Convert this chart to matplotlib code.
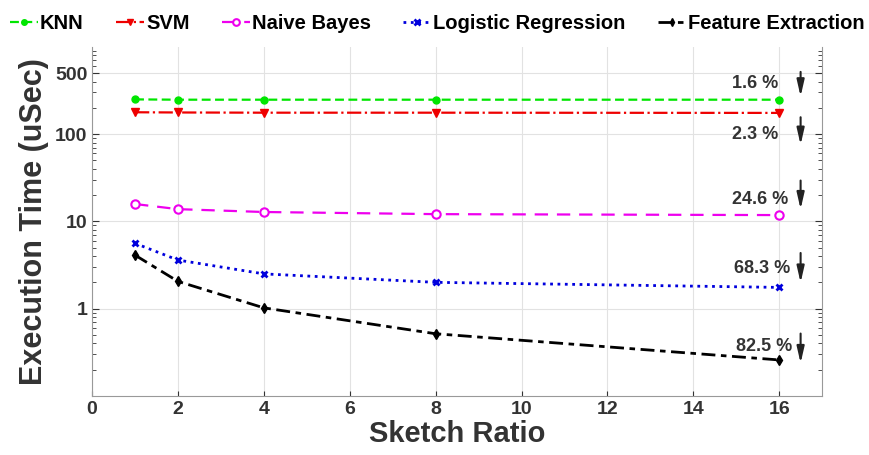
import matplotlib
matplotlib.use("Agg")
import matplotlib.pyplot as plt
from matplotlib.ticker import FixedLocator, NullFormatter, LogLocator

plt.rcParams['font.family'] = ['Liberation Sans', 'DejaVu Sans']
plt.rcParams['font.weight'] = 'bold'

sketch_ratio = [1, 2, 4, 8, 16]
knn = [250, 248, 248, 248, 248]
svm = [178, 177, 176, 176, 175]
naive_bayes = [15.8, 13.8, 12.8, 12.1, 11.8]
logistic = [5.6, 3.6, 2.5, 2.0, 1.75]
feature = [4.1, 2.05, 1.02, 0.515, 0.258]

labels = ["1.6 %", "2.3 %", "24.6 %", "68.3 %", "82.5 %"]
label_x = [15.45, 15.45, 15.55, 15.6, 15.65]
label_y = [383, 100, 17.6, 2.9, 0.37]
arrow_x = 16.5
arrow_top = [556, 168, 31.6, 4.67, 0.557]
arrow_bot = [251, 70, 12.8, 1.84, 0.22]

fig = plt.figure(figsize=(8.69, 4.55), dpi=100)
ax = fig.add_axes([0.106, 0.130, 0.840, 0.767])

ax.plot(sketch_ratio, knn, color='#00e600', ls=(0, (4, 2)), lw=1.6, marker='o', ms=5, label='KNN')
ax.plot(sketch_ratio, svm, color='#ee0000', ls='-.', lw=1.6, marker='v', ms=6, label='SVM')
ax.plot(sketch_ratio, naive_bayes, color='#ee00ee', ls=(0, (6, 4)), lw=1.6, marker='o', ms=6,
        mfc='white', mew=1.5, label='Naive Bayes')
ax.plot(sketch_ratio, logistic, color='#0000dd', ls=':', lw=2.0, marker='x', ms=5, mew=2,
        label='Logistic Regression')
ax.plot(sketch_ratio, feature, color='black', ls=(0, (5, 2, 2, 2)), lw=2.0, marker='d', ms=5,
        label='Feature Extraction')

ax.set_yscale('log')
ax.set_xlim(0, 17)
ax.set_ylim(0.1, 1000)
ax.set_xticks(range(0, 17, 2))
ax.yaxis.set_major_locator(FixedLocator([1, 10, 100, 500]))
ax.set_yticklabels(['1', '10', '100', '500'])
ax.yaxis.set_minor_locator(LogLocator(base=10, subs=range(2, 10)))
ax.yaxis.set_minor_formatter(NullFormatter())

ax.grid(True, which='major', color='#e2e2e2', lw=0.8)
ax.set_axisbelow(True)
ax.tick_params(axis='both', which='both', direction='in', top=False, right=True,
               labelsize=14, colors='#333333', labelcolor='#333333')
ax.tick_params(axis='y', which='major', length=5)
ax.tick_params(axis='y', which='minor', length=3)
for s in ax.spines.values():
    s.set_color('#999999')
ax.spines['top'].set_visible(False)

ax.set_xlabel('Sketch Ratio', fontsize=21, fontweight='bold', color='#333333', labelpad=2)
ax.set_ylabel('Execution Time (uSec)', fontsize=22, fontweight='bold', color='#333333', labelpad=4)

for t, x, y in zip(labels, label_x, label_y):
    ax.text(x, y, t, ha='center', va='center', fontsize=13, fontweight='bold', color='#333333')
for yt, yb in zip(arrow_top, arrow_bot):
    ax.annotate('', xy=(arrow_x, yb), xytext=(arrow_x, yt),
                arrowprops=dict(arrowstyle='-|>,head_length=0.7,head_width=0.16',
                                color='#222222', lw=1.5, mutation_scale=14))

fig.legend(loc='upper center', bbox_to_anchor=(0.503, 1.01), ncol=5, frameon=False,
           handlelength=1.4, handletextpad=0.1, columnspacing=1.6, markerscale=0.8,
           prop={'size': 14.5, 'weight': 'bold'})

fig.savefig('out.png', dpi=100)
